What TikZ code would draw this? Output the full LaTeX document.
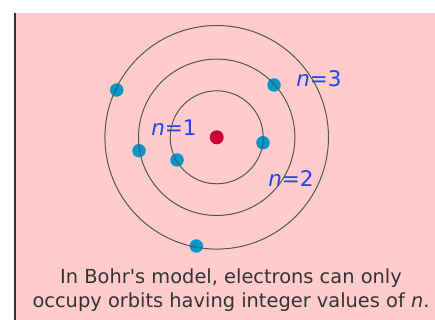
\documentclass[tikz,border=0pt]{standalone}
\usepackage{fontspec}
\setmainfont{DejaVu Sans}
\newfontfamily\capfont{DejaVu Sans}
\definecolor{bgpink}{HTML}{FFCCCC}
\definecolor{elec}{HTML}{0099CC}
\definecolor{nucl}{HTML}{CC0033}
\definecolor{lblue}{HTML}{2244EE}
\definecolor{orbitc}{HTML}{555555}
\tikzset{
  electron/.style={circle,fill=elec,inner sep=0pt,minimum size=13.5pt},
  nucleus/.style={circle,fill=nucl,inner sep=0pt,minimum size=14pt},
  orbit/.style={draw=orbitc,line width=1pt},
  nlabel/.style={text=lblue,font=\capfont\fontsize{21.5}{24}\selectfont,inner sep=0pt},
  caption/.style={font=\capfont\fontsize{19.4}{24}\selectfont,text=black!80,align=center,inner sep=0pt}
}
\begin{document}
\begin{tikzpicture}[x=1pt,y=-1pt]
\useasboundingbox (0,0) rectangle (435,320);
\fill[white] (0,0) rectangle (435,320);
\fill[bgpink] (14,13) rectangle (435,320);
\fill[black!80] (14,13) rectangle (16,320);
% electrons
\node[electron] (e1) at (116.7,90) {};
\node[electron] (e2) at (274,85) {};
\node[electron] (e3) at (139,150.7) {};
\node[electron] (e4) at (177,160) {};
\node[electron] (e5) at (263,142.7) {};
\node[electron] (e6) at (196.3,246) {};
\node[nucleus] (nuc) at (216.7,137.3) {};
% labels
\node[nlabel] (l1) at (174,128) {\textit{n}=1};
\node[nlabel] (l2) at (291,179) {\textit{n}=2};
\node[nlabel] (l3) at (319,79) {\textit{n}=3};
% orbits
\draw[orbit] (nuc.center) circle (46.5);
\draw[orbit] (nuc.center) circle (78.2);
\draw[orbit] (nuc.center) circle (111.8);
% caption
\node[caption] (cap) at (231,290.5) {In Bohr's model, electrons can only\\occupy orbits having integer values of \textit{n}.};
\end{tikzpicture}
\end{document}
